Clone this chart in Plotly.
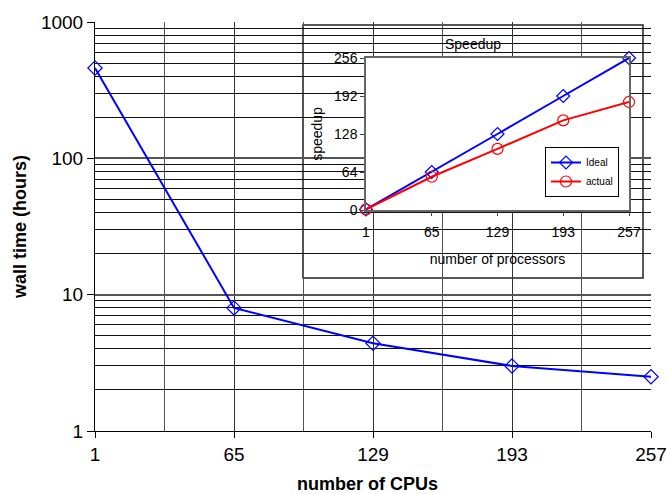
import plotly.graph_objects as go

cpus = [1, 65, 129, 193, 257]
wall_hours = [460, 8.0, 4.4, 3.0, 2.5]
ideal_speedup = [1, 64, 128, 192, 256]
actual_speedup = [1, 56, 103, 151, 182]
x_ticks = [1, 65, 129, 193, 257]
y_ticks = [1, 10, 100, 1000]
inset_y_ticks = [0, 64, 128, 192, 256]

FONT = "Liberation Sans, Arial, sans-serif"
W, H = 667, 494
L, R, T, B = 95, 16, 22, 63
pw, ph = W - L - R, H - T - B

def px_x(p):
    return (p - L) / pw

def px_y(p):
    return (H - B - p) / ph

fig = go.Figure()

fig.add_trace(go.Scatter(
    x=cpus, y=wall_hours, mode="lines+markers", showlegend=False,
    line=dict(color="#0000FF", width=2),
    marker=dict(symbol="diamond-open", size=11, color="#0000FF", line=dict(width=1.2)),
    xaxis="x", yaxis="y", cliponaxis=False))

fig.add_trace(go.Scatter(
    x=cpus, y=ideal_speedup, mode="lines+markers", name="Ideal",
    line=dict(color="#0000FF", width=2),
    marker=dict(symbol="diamond-open", size=10, color="#0000FF", line=dict(width=1.2)),
    xaxis="x2", yaxis="y2", cliponaxis=False))

fig.add_trace(go.Scatter(
    x=cpus, y=actual_speedup, mode="lines+markers", name="actual",
    line=dict(color="#FF0000", width=2),
    marker=dict(symbol="circle-open", size=11, color="#FF0000", line=dict(width=1.2)),
    xaxis="x2", yaxis="y2", cliponaxis=False))

# inset axis domain (pixels)
ix0, ix1, iy0, iy1 = 366, 629, 58, 210
iw, ih = ix1 - ix0, iy1 - iy0

# inset white box with border, drawn in inset subplot layer
bx0, bx1, by0, by1 = 303, 643, 25, 278
fig.add_shape(type="rect", xref="x2 domain", yref="y2 domain",
              x0=(bx0 - ix0) / iw, x1=(bx1 - ix0) / iw,
              y0=(iy1 - by1) / ih, y1=(iy1 - by0) / ih,
              fillcolor="white", line=dict(color="#222", width=1.5), layer="below")

minor_y = [m * 10 ** e for e in range(0, 3) for m in range(2, 10)]

fig.update_layout(
    width=W, height=H,
    margin=dict(l=L, r=R, t=T, b=B, autoexpand=False),
    paper_bgcolor="white", plot_bgcolor="white",
    font=dict(family=FONT, color="black"),
    xaxis=dict(
        domain=[0, 1], range=[1, 257], tickvals=x_ticks, automargin=False,
        ticks="outside", ticklen=6, tickcolor="black",
        showgrid=True, gridcolor="#333", gridwidth=1,
        minor=dict(tickvals=[33, 97, 161, 225], showgrid=True, gridcolor="#555", gridwidth=1, ticks=""),
        showline=True, linecolor="black", linewidth=1, mirror=False,
        zeroline=False, tickfont=dict(size=19)),
    yaxis=dict(
        domain=[0, 1], type="log", range=[0, 3], tickvals=y_ticks, automargin=False,
        ticktext=[str(v) for v in y_ticks],
        ticks="outside", ticklen=7, tickcolor="black",
        showgrid=True, gridcolor="#555", gridwidth=1.5,
        minor=dict(tickvals=minor_y, showgrid=True, gridcolor="#111", gridwidth=1, ticks=""),
        showline=True, linecolor="black", linewidth=1,
        zeroline=False, tickfont=dict(size=19),
        title=dict(text="<b>wall time (hours)</b>", font=dict(size=18), standoff=9)),
    xaxis2=dict(
        domain=[px_x(ix0), px_x(ix1)], anchor="y2", range=[1, 257], tickvals=x_ticks,
        automargin=False,
        ticks="outside", ticklen=4, tickcolor="#444", ticklabelstandoff=4,
        showgrid=False, zeroline=False,
        showline=True, linecolor="#666", linewidth=1.5, mirror=True,
        tickfont=dict(size=14),
        title=dict(text="number of processors", font=dict(size=14), standoff=16)),
    yaxis2=dict(
        domain=[px_y(iy1), px_y(iy0)], anchor="x2", range=[0, 256], tickvals=inset_y_ticks,
        automargin=False,
        ticks="outside", ticklen=4, tickcolor="#444",
        showgrid=False, zeroline=False,
        showline=True, linecolor="#666", linewidth=1.5, mirror=True,
        tickfont=dict(size=14),
        title=dict(text="speedup", font=dict(size=14), standoff=8)),
    legend=dict(
        x=px_x(545), y=px_y(147), xanchor="left", yanchor="top",
        bgcolor="white", bordercolor="black", borderwidth=1,
        font=dict(size=10), tracegroupgap=0, itemwidth=30,
        traceorder="normal"),
    annotations=[
        dict(text="Speedup", xref="paper", yref="paper",
             x=px_x((bx0 + bx1) / 2), y=px_y(44), xanchor="center", yanchor="middle",
             showarrow=False, font=dict(size=14)),
        dict(text="<b>number of CPUs</b>", xref="paper", yref="paper",
             x=px_x(367), y=px_y(484), xanchor="center", yanchor="middle",
             showarrow=False, font=dict(size=18)),
    ],
)

fig.write_html("out.html", config={"displayModeBar": False},
               post_script="document.body.style.margin='0';document.body.style.overflow='hidden';")
